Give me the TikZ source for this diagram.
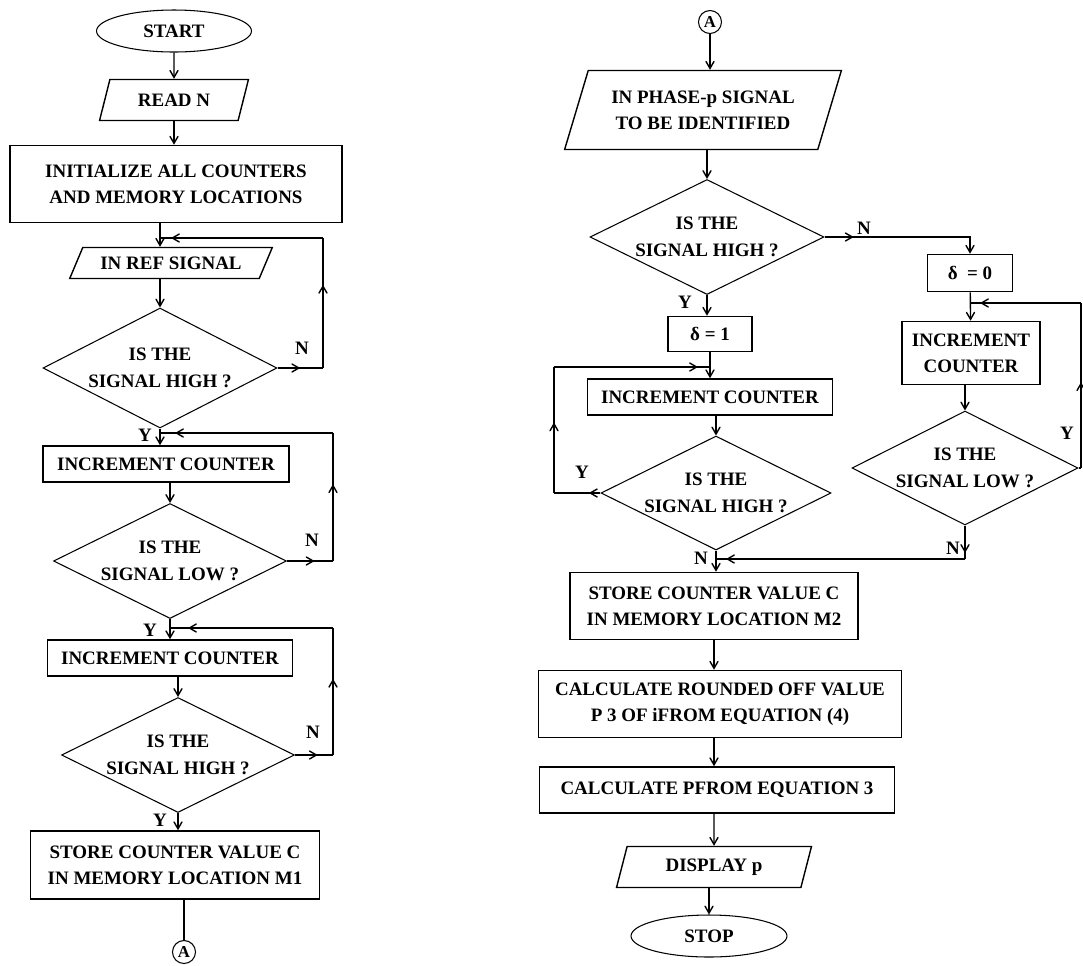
\documentclass[tikz,border=0pt]{standalone}
\usepackage{fontspec}
\setmainfont{Liberation Serif}
\usetikzlibrary{arrows,shapes.geometric,decorations.markings}

\tikzset{
    process/.style={shape=rectangle,draw=black,line width=0.9pt,align=center,inner sep=2pt},
    decision/.style={shape=diamond,draw=black,line width=0.6pt,aspect=2,align=center,inner sep=0pt},
    inout/.style={shape=trapezium,draw=black,line width=0.8pt,trapezium stretches=true,align=center,inner sep=2pt},
    terminal/.style={shape=ellipse,draw=black,line width=0.6pt},
    connector/.style={shape=circle,draw=black,line width=0.6pt,inner sep=0pt,minimum size=0.46cm,font=\bfseries\fontsize{9.5}{9.5}\selectfont},
    answer/.style={inner sep=0pt},
    arrowat/.style={postaction={decorate},decoration={markings,mark=at position #1 with {\arrow{>}}}}
}

\begin{document}
\begin{tikzpicture}[x=0.02cm,y=-0.02cm,>=angle 60,line width=0.8pt,font=\bfseries\fontsize{10.8}{15}\selectfont]
    \useasboundingbox (0,0) rectangle (1083,965);

    \node[terminal,minimum width=3.1cm,minimum height=0.84cm] (start) at (174,31) {START};
    \node[inout,trapezium left angle=72,trapezium right angle=108,minimum width=2.98cm,minimum height=0.82cm] (readn) at (174,100) {READ N};
    \node[process,minimum width=6.64cm,minimum height=1.54cm] (init) at (176,184) {INITIALIZE ALL COUNTERS\\AND MEMORY LOCATIONS};
    \node[inout,trapezium left angle=61,trapezium right angle=119,minimum width=4.06cm,minimum height=0.62cm] (inref) at (171,263) {IN REF SIGNAL};
    \node[decision,minimum width=4.68cm,minimum height=2.4cm] (d1) at (160,368) {IS THE\\SIGNAL HIGH ?};
    \node[process,minimum width=4.92cm,minimum height=0.72cm] (inc1) at (166,464) {INCREMENT COUNTER};
    \node[decision,minimum width=4.66cm,minimum height=2.3cm] (d2) at (170,561) {IS THE\\SIGNAL LOW ?};
    \node[process,minimum width=4.9cm,minimum height=0.72cm] (inc2) at (170,658) {INCREMENT COUNTER};
    \node[decision,minimum width=4.66cm,minimum height=2.3cm] (d3) at (178,755) {IS THE\\SIGNAL HIGH ?};
    \node[process,minimum width=5.78cm,minimum height=1.36cm] (store1) at (175,865) {STORE COUNTER VALUE C\\IN MEMORY LOCATION M1};
    \node[connector] (a1) at (184,952) {A};

    \node[answer] (n1) at (302,348) {N};
    \node[answer] (n2) at (312,540) {N};
    \node[answer] (n3) at (313,732) {N};
    \node[answer] (y1) at (145,435) {Y};
    \node[answer] (y2) at (150,630) {Y};
    \node[answer] (y3) at (160,820) {Y};

    \coordinate (j1) at (160,238);
    \coordinate (j2) at (160,433);
    \coordinate (j3) at (170,628);
    \coordinate (l1a) at (323,368);
    \coordinate (l1b) at (323,238);
    \coordinate (l2a) at (333,561);
    \coordinate (l2b) at (333,433);
    \coordinate (l3a) at (333,755);
    \coordinate (l3b) at (333,628);

    \draw[->] (start) -- (readn);
    \draw[->] (readn.south) -- (readn.south |- init.north);
    \draw[->] (init.south -| j1) -- (inref.north -| j1);
    \draw[->] (inref.south -| d1) -- (d1.north);
    \draw[->] (d1.south) -- (d1.south |- inc1.north);
    \draw[->] (inc1.south -| d2) -- (d2.north);
    \draw[->] (d2.south) -- (d2.south |- inc2.north);
    \draw[->] (inc2.south -| d3) -- (d3.north);
    \draw[->] (d3.south) -- (d3.south |- store1.north);
    \draw (store1.south -| a1) -- (a1.north);

    \draw[arrowat=0.5] (d1.east) -- (l1a);
    \draw[arrowat=0.64] (l1a) -- (l1b);
    \draw[arrowat=-0.22cm] (l1b) -- (j1);
    \draw[arrowat=0.6] (d2.east) -- (l2a);
    \draw[arrowat=0.6] (l2a) -- (l2b);
    \draw[arrowat=-0.3cm] (l2b) -- (j2);
    \draw[arrowat=0.6] (d3.east) -- (l3a);
    \draw[arrowat=0.6] (l3a) -- (l3b);
    \draw[arrowat=-0.36cm] (l3b) -- (j3);

    \node[connector] (a2) at (710,22) {A};
    \node[inout,trapezium left angle=67,trapezium right angle=113,minimum width=5.54cm,minimum height=1.58cm] (phase) at (703,110) {IN PHASE-p SIGNAL\\TO BE IDENTIFIED};
    \node[decision,minimum width=4.68cm,minimum height=2.3cm] (d4) at (707,237) {IS THE\\SIGNAL HIGH ?};
    \node[process,minimum width=1.7cm,minimum height=0.74cm] (dzero) at (970,273) {δ \ = 0};
    \node[process,minimum width=1.68cm,minimum height=0.7cm] (done) at (710,334) {δ = 1};
    \node[process,minimum width=4.9cm,minimum height=0.72cm] (inc3) at (710,397) {INCREMENT COUNTER};
    \node[decision,minimum width=4.6cm,minimum height=2.28cm] (d5) at (716,493) {IS THE\\SIGNAL HIGH ?};
    \node[process,minimum width=2.76cm,minimum height=1.26cm] (inc4) at (971,353) {INCREMENT\\COUNTER};
    \node[decision,minimum width=4.52cm,minimum height=2.28cm] (d6) at (965,468) {IS THE\\SIGNAL LOW ?};
    \node[process,minimum width=5.76cm,minimum height=1.34cm] (store2) at (714,606) {STORE COUNTER VALUE C\\IN MEMORY LOCATION M2};
    \node[process,minimum width=7.26cm,minimum height=1.34cm] (calc1) at (720,704) {CALCULATE ROUNDED OFF VALUE\\P 3 OF iFROM EQUATION (4)};
    \node[process,minimum width=7.1cm,minimum height=0.92cm] (calc2) at (717,790) {CALCULATE PFROM EQUATION 3};
    \node[inout,trapezium left angle=75,trapezium right angle=105,minimum width=3.92cm,minimum height=0.82cm] (disp) at (714,867) {DISPLAY p};
    \node[terminal,minimum width=3.12cm,minimum height=0.84cm] (stop) at (709,936) {STOP};

    \node[answer] (n4) at (864,228) {N};
    \node[answer] (y4) at (685,302) {Y};
    \node[answer] (y5) at (582,472) {Y};
    \node[answer] (n5) at (701,558) {N};
    \node[answer] (y6) at (1067,433) {Y};
    \node[answer] (n6) at (953,548) {N};

    \coordinate (j4) at (710,367);
    \coordinate (j5) at (716,559);
    \coordinate (j6) at (970,303);
    \coordinate (l5a) at (554,493);
    \coordinate (l5b) at (554,367);
    \coordinate (l6a) at (965,559);
    \coordinate (l7a) at (1081,468);
    \coordinate (l7b) at (1081,303);

    \draw[->] (a2.south) -- (a2.south |- phase.north);
    \draw[->] (phase.south -| d4) -- (d4.north);
    \draw[->,arrowat=0.18] (d4.east) -| (dzero.north);
    \draw[->] (d4.south) -- (d4.south |- done.north);
    \draw[->] (done) -- (inc3);
    \draw[->] (inc3.south -| d5) -- (d5.north);
    \draw[->] (d5.south) -- (d5.south |- store2.north);
    \draw[->] (dzero) -- (inc4);
    \draw[->] (inc4.south -| d6) -- (d6.north);
    \draw[->] (store2.south -| disp) -- (disp |- calc1.north);
    \draw[->] (calc1.south -| disp) -- (disp |- calc2.north);
    \draw[->] (calc2.south -| disp) -- (disp.north);
    \draw[->] (disp.south -| stop) -- (stop.north);

    \draw[arrowat=0.25] (d5.west) -- (l5a);
    \draw[arrowat=0.56] (l5a) -- (l5b);
    \draw[arrowat=-0.24cm] (l5b) -- (j4);
    \draw[arrowat=-0.12cm] (d6.south) -- (l6a);
    \draw[arrowat=-0.2cm] (l6a) -- (j5);
    \draw (d6.east) -- (l7a);
    \draw[arrowat=0.52] (l7a) -- (l7b);
    \draw[arrowat=-0.2cm] (l7b) -- (j6);
\end{tikzpicture}
\end{document}
